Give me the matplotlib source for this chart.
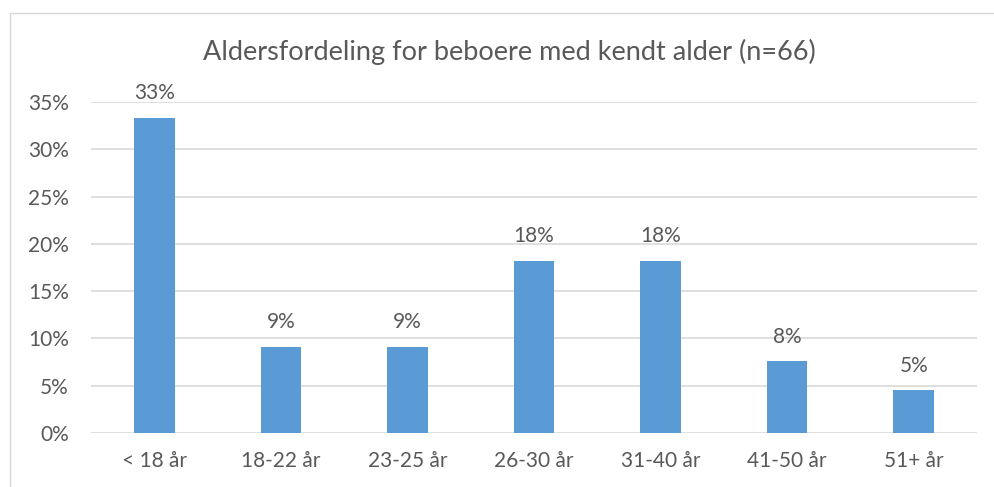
import matplotlib
matplotlib.use("Agg")
import matplotlib.pyplot as plt
from matplotlib.patches import Rectangle

# Data
kategorier = ["< 18 år", "18-22 år", "23-25 år", "26-30 år", "31-40 år", "41-50 år", "51+ år"]
andel = [0.333, 0.091, 0.091, 0.182, 0.182, 0.076, 0.045]
etiketter = ["33%", "9%", "9%", "18%", "18%", "8%", "5%"]
yticks = [0, 0.05, 0.10, 0.15, 0.20, 0.25, 0.30, 0.35]

tekstfarve = "#595959"
plt.rcParams["font.family"] = ["Lato", "DejaVu Sans"]

W, H = 994, 487
fig = plt.figure(figsize=(W / 100, H / 100), dpi=100)

# ramme (kun venstre og top synlig)
fig.patches.append(Rectangle((10 / W, -0.1), 1.2, (H - 13) / H + 0.1, transform=fig.transFigure,
                             fill=False, edgecolor="#D9D9D9", linewidth=1.0))

ax = fig.add_axes([91 / W, (H - 433) / H, (977 - 91) / W, (433 - 102) / H])
x = range(len(kategorier))
ax.bar(x, andel, width=0.32, color="#5B9BD5", zorder=3)
for xi, v, lab in zip(x, andel, etiketter):
    ax.annotate(lab, (xi, v), xytext=(0, 10.5), textcoords="offset points",
                ha="center", va="bottom", fontsize=15, color=tekstfarve)

ax.set_xlim(-0.5, len(kategorier) - 0.5)
ax.set_ylim(0, 0.35)
ax.set_yticks(yticks)
ax.set_yticklabels([f"{int(round(t * 100))}%" for t in yticks])
ax.set_xticks(list(x))
ax.set_xticklabels(kategorier)
ax.yaxis.grid(True, color="#D9D9D9", linewidth=1.2, zorder=0)
ax.tick_params(axis="both", length=0, labelsize=15, labelcolor=tekstfarve)
ax.tick_params(axis="y", pad=16)
ax.tick_params(axis="x", pad=13)
for s in ax.spines.values():
    s.set_visible(False)

fig.text(509 / W, (H - 52) / H, "Aldersfordeling for beboere med kendt alder (n=66)",
         ha="center", va="center", fontsize=19.5, color=tekstfarve)

fig.savefig("out.png", dpi=100)
